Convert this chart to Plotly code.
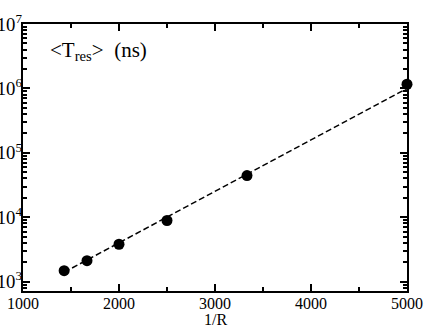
import plotly.graph_objects as go

# residence time vs 1/R
inv_r = [1428.6, 1666.7, 2000.0, 2500.0, 3333.3, 5000.0]
t_res = [1480, 2120, 3810, 8900, 44300, 1160000]

# dashed fit line endpoints
fit_x = [1428.6, 5000.0]
fit_y = [1400, 1000000]

font = "Liberation Serif"

fig = go.Figure()
fig.add_trace(go.Scatter(x=fit_x, y=fit_y, mode="lines",
                         line=dict(color="black", width=1.5, dash="6px,3px"),
                         showlegend=False))
fig.add_trace(go.Scatter(x=inv_r, y=t_res, mode="markers",
                         marker=dict(color="black", size=11),
                         showlegend=False, cliponaxis=False))

fig.update_layout(
    width=425, height=330,
    margin=dict(l=23, r=18, t=24, b=39),
    plot_bgcolor="white", paper_bgcolor="white",
    font=dict(family=font, size=16, color="black"),
)
fig.update_xaxes(range=[1000, 5000], dtick=1000, showgrid=False, zeroline=False,
                 automargin=False, ticklabelstandoff=-3,
                 showline=True, linecolor="black", linewidth=2, mirror="ticks",
                 ticks="inside", ticklen=7, tickwidth=1.5, tickcolor="black",
                 minor=dict(ticks="inside", ticklen=4, dtick=500, tickcolor="black", showgrid=False))
fig.update_yaxes(type="log", range=[2.855, 7], dtick=1, exponentformat="power",
                 showgrid=False, zeroline=False, automargin=False, ticklabelstandoff=-4,
                 tickfont=dict(size=15),
                 showline=True, linecolor="black", linewidth=2, mirror="ticks",
                 ticks="inside", ticklen=7, tickwidth=1.5, tickcolor="black",
                 minor=dict(ticks="inside", ticklen=4, tickcolor="black", showgrid=False))
fig.add_annotation(text="1/R", xref="paper", yref="paper", x=0.5, y=-0.105,
                   xanchor="center", yanchor="middle", showarrow=False,
                   font=dict(family=font, size=16))
fig.add_annotation(text="&lt;T<sub>res</sub>&gt;  (ns)", xref="paper", yref="paper",
                   x=0.065, y=0.90, xanchor="left", yanchor="middle",
                   showarrow=False, font=dict(family=font, size=21))

fig.write_html("out.html", config={"displayModeBar": False},
               post_script="document.body.style.margin='0';")
